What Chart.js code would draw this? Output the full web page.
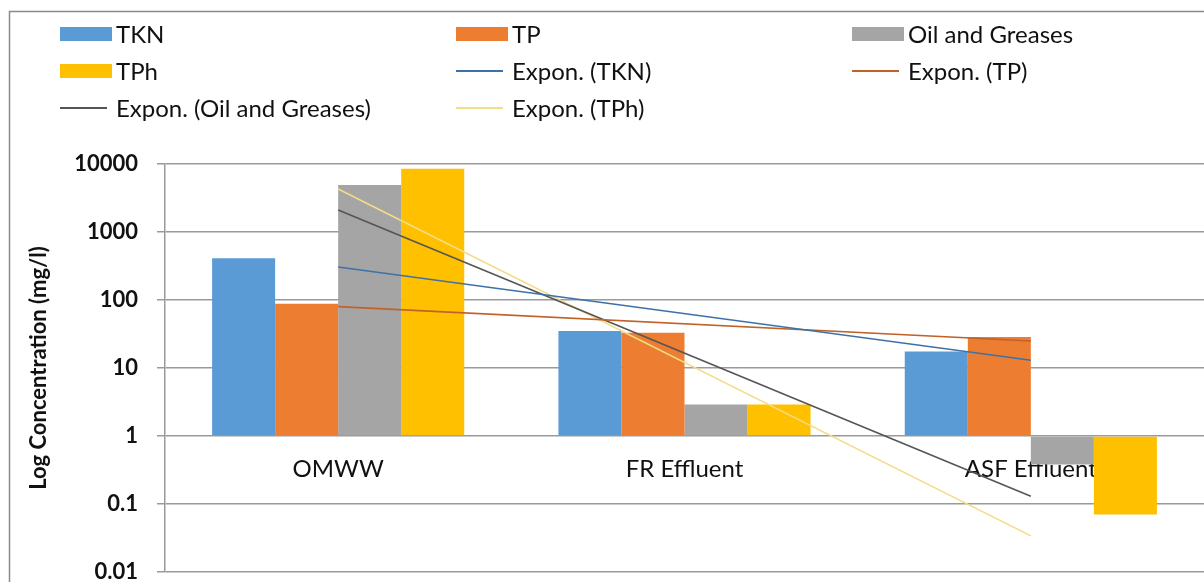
<!DOCTYPE html>
<html>
<head>
<meta charset="utf-8">
<script src="https://cdn.jsdelivr.net/npm/chart.js@4"></script>
<style>
  body { margin: 0; background: #fff; }
  #wrap { position: relative; width: 1204px; height: 582px; }
  #legend {
    position: absolute; left: 60px; top: 15px;
    display: grid; grid-template-columns: 396px 396px 300px; grid-auto-rows: 37px;
    font-family: Lato, sans-serif; font-size: 24px; color: #111;
  }
  .item { display: flex; align-items: center; white-space: nowrap; }
  .sw { width: 52px; height: 14px; margin-right: 4px; position: relative; }
  .ln { position: absolute; left: 0; width: 47px; top: 6px; height: 2px; }
</style>
</head>
<body>
<div id="wrap">
  <canvas id="chart"></canvas>
  <div id="legend"></div>
</div>
<script>
// categories and values
let categories   = [ 'OMWW', 'FR Effluent', 'ASF Effluent' ];
let tkn          = [ 410, 35, 17.5 ];
let tp           = [ 88, 33, 28.5 ];
let oil_greases  = [ 4900, 2.9, 0.38 ];
let tph          = [ 8500, 2.9, 0.07 ];

// exponential trendline end points (straight on a log axis)
let trend_tkn    = [ 305, null, 13 ];
let trend_tp     = [ 80, null, 25 ];
let trend_oil    = [ 2100, null, 0.13 ];
let trend_tph    = [ 4300, null, 0.034 ];

let y_ticks      = [ 0.01, 0.1, 1, 10, 100, 1000, 10000 ];

let font_family  = 'Lato, sans-serif';
let grid_color   = '#9a9a9a';

function bar_set( label, data, color ) {
    return { type: 'bar', label: label, data: data, backgroundColor: color, base: 1, order: 1,
             barPercentage: 1, categoryPercentage: 0.728 };
}

function trend_set( label, data, color ) {
    return { type: 'line', label: label, data: data, borderColor: color, backgroundColor: color,
             borderWidth: 1.6, pointRadius: 0, spanGaps: true, tension: 0, order: 0 };
}

/**
 * Frame round the chart, like the Excel chart border
 */
let frame_plugin = {
    id: 'frame',
    beforeDraw: function( chart ) {
        let ctx = chart.ctx;
        ctx.save();
        ctx.strokeStyle = '#8a8a8a';
        ctx.lineWidth   = 1.5;
        ctx.strokeRect( 9.5, 11.5, 1300, 700 );
        ctx.restore();
    }
};

let chart = new Chart( document.getElementById( 'chart' ), {
    data: {
        labels: categories,
        datasets: [
            bar_set( 'TKN', tkn, '#5b9bd5' ),
            bar_set( 'TP', tp, '#ed7d31' ),
            bar_set( 'Oil and Greases', oil_greases, '#a5a5a5' ),
            bar_set( 'TPh', tph, '#ffc000' ),
            trend_set( 'Expon. (TKN)', trend_tkn, '#3d72a8' ),
            trend_set( 'Expon. (TP)', trend_tp, '#c0622a' ),
            trend_set( 'Expon. (Oil and Greases)', trend_oil, '#555555' ),
            trend_set( 'Expon. (TPh)', trend_tph, '#f3dc86' )
        ]
    },
    options: {
        responsive: true,
        maintainAspectRatio: false,
        animation: false,
        layout: { padding: { top: 164, left: 9, right: 0, bottom: 10 } },
        plugins: {
            legend: { display: false },
            tooltip: { enabled: false }
        },
        scales: {
            x: {
                type: 'category',
                position: { y: 1 },
                offset: true,
                z: 1, // labels sit on top of the bars, as in Excel
                afterFit: function( scale ) {
                    // axis sits inside the plot at y = 1, take no room at the bottom
                    scale.height = 0;
                },
                grid: { display: false },
                border: { display: false },
                ticks: { color: '#111', padding: 11, font: { family: font_family, size: 24 } }
            },
            y: {
                type: 'logarithmic',
                min: 0.01,
                max: 10000,
                afterBuildTicks: function( scale ) {
                    scale.ticks = y_ticks.map( function( v ) { return { value: v }; } );
                },
                afterFit: function( scale ) {
                    scale.width         = 156;
                    scale.paddingTop    = 0;
                    scale.paddingBottom = 0;
                },
                grid: { color: grid_color, lineWidth: 1.5, tickLength: 8 },
                border: { color: grid_color, width: 1.5 },
                ticks: {
                    color: '#111',
                    padding: 19,
                    font: { family: font_family, size: 22, weight: 'bold' },
                    callback: function( value ) { return String( value ); }
                },
                title: {
                    display: true,
                    text: 'Log Concentration (mg/l)',
                    color: '#111',
                    padding: { top: 17, bottom: 0 },
                    font: { family: font_family, size: 22, weight: 'bold' }
                }
            }
        }
    },
    plugins: [ frame_plugin ]
});

// HTML legend, three columns like the original
let legend = document.getElementById( 'legend' );
chart.data.datasets.forEach( function( ds ) {
    let item = document.createElement( 'div' );
    item.className = 'item';
    let sw = document.createElement( 'span' );
    sw.className = 'sw';
    if ( 'line' === ds.type ) {
        let ln = document.createElement( 'span' );
        ln.className = 'ln';
        ln.style.background = ds.borderColor;
        sw.appendChild( ln );
    } else {
        sw.style.background = ds.backgroundColor;
    }
    item.appendChild( sw );
    item.appendChild( document.createTextNode( ds.label ) );
    legend.appendChild( item );
});
</script>
</body>
</html>
